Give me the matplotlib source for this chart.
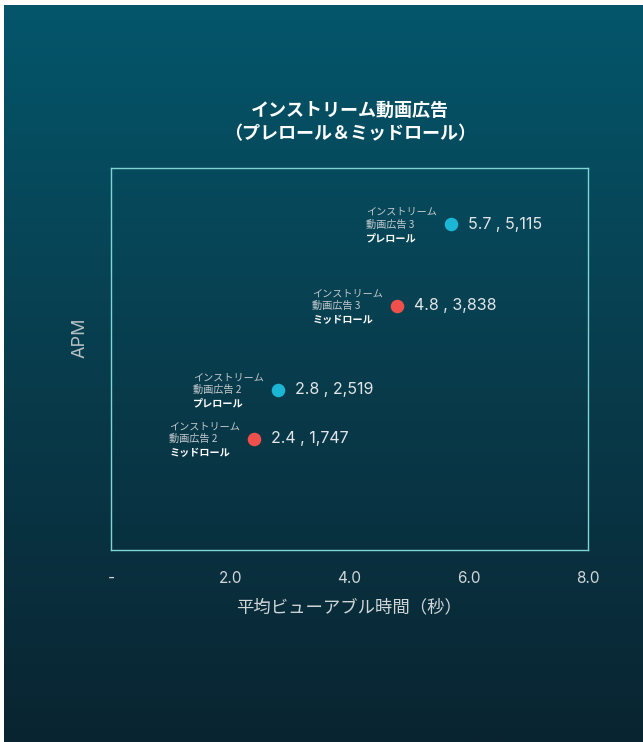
import numpy as np
import matplotlib.pyplot as plt
from matplotlib.colors import LinearSegmentedColormap

plt.rcParams['font.family'] = ['Noto Sans CJK JP', 'DejaVu Sans']

# viewable time (s) vs APM for each in-stream ad
ads = ['インストリーム\n動画広告 3', 'インストリーム\n動画広告 3',
       'インストリーム\n動画広告 2', 'インストリーム\n動画広告 2']
kinds = ['プレロール', 'ミッドロール', 'プレロール', 'ミッドロール']
view_time = [5.7, 4.8, 2.8, 2.4]
apm = [5115, 3838, 2519, 1747]
kind_colors = {'プレロール': '#1bb6d6', 'ミッドロール': '#f0504c'}

xticks = [0, 2, 4, 6, 8]
xtick_labels = ['-', '2.0', '4.0', '6.0', '8.0']

fig = plt.figure(figsize=(6.43, 7.42), dpi=100, facecolor='white')

# background gradient
bg = fig.add_axes([4 / 643, 0, 1 - 4 / 643, 1 - 5 / 742], zorder=0)
cmap = LinearSegmentedColormap.from_list('bg', ['#04566b', '#083c4c', '#0a2431'])
bg.imshow(np.linspace(0, 1, 256).reshape(-1, 1), aspect='auto', cmap=cmap,
          extent=[0, 1, 0, 1])
bg.set_axis_off()

ax = fig.add_axes([111 / 643, 1 - 550 / 742, 477 / 643, 382 / 742], zorder=1)
ax.set_facecolor('none')
for s in ax.spines.values():
    s.set_color('#7fd4d4')
    s.set_linewidth(1.0)

ax.set_xlim(0, 8)
ax.set_ylim(0, 6000)
ax.set_xticks(xticks)
ax.set_xticklabels(xtick_labels, family=['Inter', 'DejaVu Sans'])
ax.set_yticks([])
ax.tick_params(axis='x', length=0, pad=15, labelsize=11, labelcolor='#d0d6d9')

for a, k, xv, yv in zip(ads, kinds, view_time, apm):
    ax.scatter(xv, yv, s=95, color=kind_colors[k], zorder=3, linewidths=0)
    ax.annotate(f'{xv:.1f} , {yv:,}', (xv, yv), xytext=(17, 0),
                textcoords='offset pixels', va='center', ha='left',
                fontsize=11.5, color='#e2e6e8', family=['Inter', 'DejaVu Sans'])
    ax.annotate(a, (xv, yv), xytext=(-85, 6), textcoords='offset pixels',
                va='center', ha='left', fontsize=7.3, color='#c4cbce',
                linespacing=1.3)
    ax.annotate(k, (xv, yv), xytext=(-85, -14), textcoords='offset pixels',
                va='center', ha='left', fontsize=7.3, color='white',
                fontweight='bold')

ax.set_xlabel('平均ビューアブル時間（秒）', fontsize=12.5, color='#d0d6d9',
              labelpad=9)
ax.set_ylabel('APM', fontsize=13, color='#b8c1c5',
              family=['Inter', 'DejaVu Sans'])
ax.yaxis.set_label_coords(-22 / 477, (550 - 338) / 382)

fig.text(350 / 643, 1 - 122 / 742,
         'インストリーム動画広告\n（プレロール＆ミッドロール）',
         ha='center', va='center', fontsize=13, fontweight='bold',
         color='white', linespacing=1.25)

fig.savefig('out.png', dpi=100)
